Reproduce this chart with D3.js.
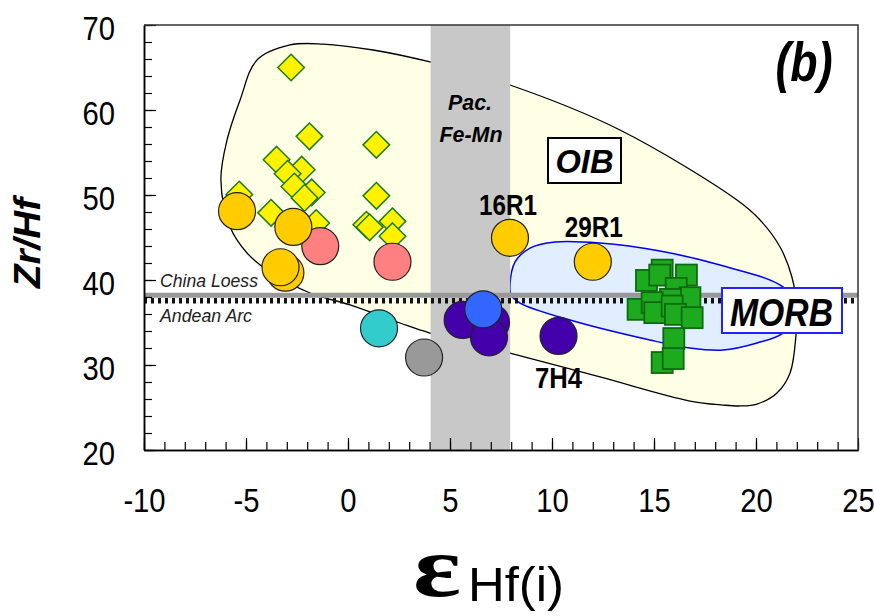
<!DOCTYPE html>
<html><head><meta charset="utf-8">
<script src="https://cdn.jsdelivr.net/npm/d3@7"></script>
<style>body{margin:0;background:#fff}svg{display:block}</style>
</head><body>
<svg id="c" width="874" height="616" font-family="Liberation Sans, Arial, sans-serif"></svg>
<script>
// ---------- data ----------
const xTicks = [-10, -5, 0, 5, 10, 15, 20, 25];
const yTicks = [20, 30, 40, 50, 60, 70];
const feMnBand = [4.05, 7.95];
const chinaLoess = 38.2;
const andeanArc = 37.55;
// OIB field outline (eHf, Zr/Hf)
const oibX = [-2.84,-1.23,1.23,4.02,7.94,13.33,19.07,20.2,21.18,21.76,22.01,21.96,21.67,21.03,20.05,19.22,18.38,16.76,12.35,7.94,4.02,2.55,0.10,-1.86,-3.97,-4.95,-5.78,-6.23,-5.93,-5.29,-4.46];
const oibY = [67.65,67.76,67.06,65.65,62.94,57.65,49.41,47.06,43.88,40.35,36.47,33.53,29.06,26.71,25.41,25.18,25.29,25.76,28.59,31.41,33.76,34.94,37.06,38.47,41.18,43.18,46.24,51.76,56.47,61.18,65.88];
// MORB field outline
const morbX = [7.94,8.19,8.92,10.15,12.35,15.29,18.24,21.32,22.16,21.32,20.05,18.38,16.76,14.8,10.88,8.43,7.99];
const morbY = [39.41,42.12,43.76,44.47,44.35,43.41,41.76,39.18,36.47,33.76,32.59,31.76,32.0,32.94,35.29,37.29,38.24];
// yellow diamonds
const diamondX = [-2.79,-1.89,1.39,-3.50,-2.27,-2.96,-2.63,-1.78,-2.13,1.39,-5.33,-3.77,0.90,1.06,2.18,2.18,-1.56];
const diamondY = [65.0,56.9,55.9,54.15,52.98,52.5,51.0,50.3,49.66,49.9,50.05,47.9,46.5,46.2,46.9,45.15,46.7];
// green squares
const squareX = [15.40,14.63,15.28,16.59,16.09,16.76,15.81,14.22,14.91,15.04,15.89,16.05,16.87,15.97,15.40,15.94];
const squareY = [41.16,39.95,40.58,40.58,39.01,37.92,37.72,36.55,37.33,36.16,36.94,35.96,35.57,33.11,30.29,30.76];
// circles
const pinkX = [-1.36, 2.18];
const pinkY = [43.98, 42.15];
const orangeX = [-5.44, -2.68, -3.07, -3.31, 7.94, 12.0];
const orangeY = [48.1, 46.25, 40.86, 41.5, 44.96, 42.15];
const cyanX = [1.52];   const cyanY = [34.32];
const greyX = [3.73];   const greyY = [30.88];
const purpleX = [5.62, 7.01, 6.91, 10.32];
const purpleY = [35.3, 35.0, 33.26, 33.42];
const blueX = [6.63];   const blueY = [36.55];

// ---------- layout ----------
const L = 144, R = 858, T = 25, B = 450;
const x = d3.scaleLinear().domain([-10, 25]).range([L, R]);
const y = d3.scaleLinear().domain([20, 70]).range([B, T]);
const svg = d3.select("#c");
const zip = (a, b) => a.map((v, i) => [v, b[i]]);

function label(g, px, py, str, o) {
  const t = g.append("text").attr("x", px).attr("y", py).text(str)
    .attr("font-size", o.size).attr("text-anchor", o.anchor || "middle")
    .attr("font-weight", o.weight || "normal").attr("font-style", o.style || "normal")
    .attr("fill", o.fill || "#000");
  if (o.family) t.style("font-family", o.family);
  if (o.len) t.attr("textLength", o.len).attr("lengthAdjust", "spacingAndGlyphs");
  return t;
}

// OIB field
const closed = d3.line().x(d => x(d[0])).y(d => y(d[1])).curve(d3.curveCatmullRomClosed.alpha(0.5));
svg.append("path").attr("d", closed(zip(oibX, oibY)))
  .attr("fill", "#FFFFE6").attr("stroke", "#000").attr("stroke-width", 1.3);
// MORB field
svg.append("path").attr("d", closed(zip(morbX, morbY)))
  .attr("fill", "#E0EEFF").attr("stroke", "#0000EE").attr("stroke-width", 1.5);
// Fe-Mn band
svg.append("rect").attr("x", x(feMnBand[0])).attr("y", T)
  .attr("width", x(feMnBand[1]) - x(feMnBand[0])).attr("height", B - T).attr("fill", "#C8C8C8");

// reference lines
svg.append("line").attr("x1", L).attr("x2", R).attr("y1", y(chinaLoess)).attr("y2", y(chinaLoess))
  .attr("stroke", "#999").attr("stroke-width", 5);
svg.append("line").attr("x1", L).attr("x2", R).attr("y1", y(andeanArc)).attr("y2", y(andeanArc))
  .attr("stroke", "#111").attr("stroke-width", 5.5).attr("stroke-dasharray", "3,4");
label(svg, 160, y(chinaLoess) - 8, "China Loess", {size: 18, anchor: "start", style: "italic", len: 98, fill: "#222"});
label(svg, 160, y(andeanArc) + 21, "Andean Arc", {size: 18, anchor: "start", style: "italic", len: 92, fill: "#222"});

// diamonds
const dh = 13.3;
svg.append("g").selectAll("path").data(zip(diamondX, diamondY)).join("path")
  .attr("d", `M0,${-dh}L${dh},0L0,${dh}L${-dh},0Z`)
  .attr("transform", d => `translate(${x(d[0])},${y(d[1])})`)
  .attr("fill", "#FFF200").attr("stroke", "#1E7B1E").attr("stroke-width", 1.5);

// circles
function circles(xs, ys, fill) {
  svg.append("g").selectAll("circle").data(zip(xs, ys)).join("circle")
    .attr("cx", d => x(d[0])).attr("cy", d => y(d[1])).attr("r", 18.5)
    .attr("fill", fill).attr("stroke", "#222").attr("stroke-width", 1.2);
}
circles(pinkX, pinkY, "#FF8080");
circles(orangeX, orangeY, "#FFCC00");
circles(cyanX, cyanY, "#33CCCC");
circles(greyX, greyY, "#999999");
circles(purpleX, purpleY, "#4400AA");
circles(blueX, blueY, "#3366FF");

// squares
const ss = 21;
svg.append("g").selectAll("rect").data(zip(squareX, squareY)).join("rect")
  .attr("x", d => x(d[0]) - ss / 2).attr("y", d => y(d[1]) - ss / 2)
  .attr("width", ss).attr("height", ss)
  .attr("fill", "#1EAA1E").attr("stroke", "#0E6A0E").attr("stroke-width", 1.8);

// axes
function styleAxis(g) { g.selectAll("line").attr("stroke", "#000").attr("stroke-width", 1.2); g.select(".domain").attr("stroke", "#000").attr("stroke-width", 1.5); }
const xMinor = svg.append("g").attr("transform", `translate(0,${B})`)
  .call(d3.axisBottom(x).tickValues(d3.range(-10, 26, 1)).tickSizeInner(-8).tickSizeOuter(0).tickFormat(""));
styleAxis(xMinor);
const xMajor = svg.append("g").attr("transform", `translate(0,${B})`)
  .call(d3.axisBottom(x).tickValues(xTicks).tickSizeInner(-12).tickSizeOuter(0).tickPadding(0).tickFormat(d3.format("d")));
styleAxis(xMajor);
xMajor.attr("font-family", null).attr("font-size", null);
xMajor.selectAll("text").attr("font-size", 34).attr("fill", "#000").attr("dy", null).attr("y", 62)
  .attr("transform", "scale(0.86,1)")
  .text(d => d < 0 ? "-" + Math.abs(d) : d);
const yMinor = svg.append("g").attr("transform", `translate(${L},0)`)
  .call(d3.axisLeft(y).tickValues(d3.range(20, 71, 2)).tickSizeInner(-8).tickSizeOuter(0).tickFormat(""));
styleAxis(yMinor);
const yMajor = svg.append("g").attr("transform", `translate(${L},0)`)
  .call(d3.axisLeft(y).tickValues(yTicks).tickSizeInner(-12).tickSizeOuter(0).tickFormat(d3.format("d")));
styleAxis(yMajor);
yMajor.attr("font-family", null).attr("font-size", null);
yMajor.selectAll("text").attr("font-size", 34).attr("fill", "#000").attr("dy", null).attr("y", 14)
  .attr("x", -29 / 0.86).attr("text-anchor", "end")
  .attr("transform", "scale(0.86,1)");
// frame top/right
svg.append("path").attr("d", `M${L},${T}H${R}V${B}`).attr("fill", "none").attr("stroke", "#333").attr("stroke-width", 1.5);

// annotations
label(svg, 470, 110, "Pac.", {size: 22, weight: "bold", style: "italic", len: 44});
label(svg, 471, 142, "Fe-Mn", {size: 22, weight: "bold", style: "italic", len: 63});
svg.append("rect").attr("x", 548).attr("y", 138).attr("width", 73).attr("height", 45)
  .attr("fill", "#fff").attr("stroke", "#000").attr("stroke-width", 2);
label(svg, 584.5, 173, "OIB", {size: 34, weight: "bold", style: "italic", len: 58});
svg.append("rect").attr("x", 722).attr("y", 288).attr("width", 120).attr("height", 45)
  .attr("fill", "#fff").attr("stroke", "#2222FF").attr("stroke-width", 2);
label(svg, 781.5, 326, "MORB", {size: 38, weight: "bold", style: "italic", len: 103});
label(svg, 804, 81, "(b)", {size: 56, weight: "bold", style: "italic", len: 57});
label(svg, x(orangeX[4]) - 2, 215, "16R1", {size: 30, weight: "bold", len: 58});
label(svg, x(orangeX[5]) + 1, 237, "29R1", {size: 30, weight: "bold", len: 58});
label(svg, x(purpleX[3]), 388, "7H4", {size: 30, weight: "bold", len: 47});

// axis titles
svg.append("text").attr("transform", "translate(40,243) rotate(-90)").attr("text-anchor", "middle")
  .attr("font-size", 36).attr("font-weight", "bold").attr("font-style", "italic")
  .attr("textLength", 90).attr("lengthAdjust", "spacingAndGlyphs").text("Zr/Hf");
label(svg, 0, 0, "ε", {size: 72, weight: "bold", anchor: "start", len: 48, family: "'Liberation Serif', 'DejaVu Serif', serif"})
  .attr("transform", "translate(413,596) scale(1,1.2)");
label(svg, 468, 601, "Hf(i)", {size: 48, anchor: "start", len: 96});
</script>
</body></html>
